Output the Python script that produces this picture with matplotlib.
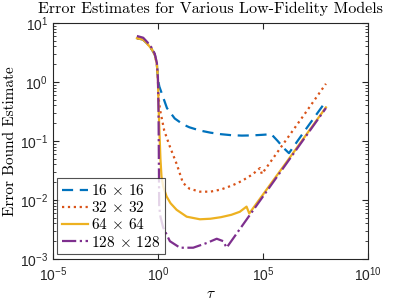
import numpy as np
import matplotlib
matplotlib.use("Agg")
import matplotlib.pyplot as plt

# log10(tau) and error values
head_logtau = [-1.0, -0.7, -0.5, -0.3, -0.15, -0.05, 0.0]
head_err = [6.0, 5.6, 4.7, 3.8, 3.0, 2.1, 1.2]
head_err_lo = [5.5, 5.2, 4.4, 3.6, 2.9, 2.0, 1.1]

blue_logtau = [0.07, 0.43, 0.8, 1.2, 1.5, 2.0, 2.5, 3.0, 3.5, 4.0, 4.5, 5.0, 5.4, 5.7, 6.0, 6.24, 7.0, 8.0]
blue_err = [0.83, 0.36, 0.24, 0.19, 0.17, 0.15, 0.138, 0.13, 0.125, 0.123, 0.124, 0.127, 0.13, 0.1, 0.075, 0.062, 0.15, 0.47]

orange_logtau = [0.03, 0.1, 0.3, 0.57, 0.9, 1.19, 1.5, 2.0, 2.5, 3.0, 3.57, 4.0, 4.5, 4.86, 4.95, 6.0, 7.0, 8.0]
orange_err = [0.55, 0.34, 0.15, 0.08, 0.04, 0.0195, 0.0155, 0.0138, 0.0138, 0.015, 0.0178, 0.021, 0.027, 0.0347, 0.0275, 0.092, 0.29, 0.93]

yellow_logtau = [0.03, 0.08, 0.12, 0.17, 0.25, 0.41, 0.6, 0.89, 1.37, 2.0, 2.5, 3.0, 3.5, 3.9, 4.22, 4.35, 6.0, 8.0]
yellow_err = [0.4, 0.12, 0.05, 0.025, 0.017, 0.0115, 0.0088, 0.0068, 0.0052, 0.0047, 0.0048, 0.0051, 0.0056, 0.0063, 0.0077, 0.0059, 0.038, 0.37]

purple_logtau = [0.03, 0.06, 0.12, 0.25, 0.57, 1.05, 1.68, 2.32, 2.8, 3.11, 3.27, 5.0, 8.0]
purple_err = [0.3, 0.0078, 0.0052, 0.0034, 0.002, 0.00155, 0.00155, 0.00186, 0.0022, 0.002, 0.00155, 0.0114, 0.36]

labels = [r"16 $\times$ 16", r"32 $\times$ 32", r"64 $\times$ 64", r"128 $\times$ 128"]
colors = ["#0072BD", "#D95319", "#EDB120", "#7E2F8E"]

plt.rcParams["font.family"] = ["Liberation Sans", "DejaVu Sans"]
plt.rcParams["mathtext.fontset"] = "cm"
plt.rcParams["axes.formatter.use_mathtext"] = True

fig = plt.figure(figsize=(4.07, 3.05), dpi=100)
ax = fig.add_axes([0.130, 0.151, 0.774, 0.774])

series = [
    (blue_logtau, blue_err, "--", head_err_lo),
    (orange_logtau, orange_err, ":", head_err_lo),
    (yellow_logtau, yellow_err, "-", head_err_lo),
    (purple_logtau, purple_err, "-.", head_err),
]
for (lt, e, ls, he), c, lab in zip(series, colors, labels):
    x = 10.0 ** np.array(head_logtau + lt)
    y = np.array(he + e)
    line, = ax.loglog(x, y, ls, color=c, lw=1.6, label=lab)
    if ls == "--":
        line.set_dashes((5, 3))

ax.set_xlim(1e-5, 1e10)
ax.set_ylim(1e-3, 1e1)
ax.set_xticks([1e-5, 1e0, 1e5, 1e10])
ax.xaxis.set_minor_locator(matplotlib.ticker.NullLocator())
ax.tick_params(which="both", direction="in", top=True, right=True, labelsize=10, colors="#262626")
ax.tick_params(which="major", length=4)
ax.tick_params(which="minor", length=2)
ax.tick_params(axis="x", pad=5)
for s in ax.spines.values():
    s.set_color("#262626")
    s.set_linewidth(0.8)

cm = {"family": "cmr10"}
ax.set_title("Error Estimates for Various Low-Fidelity Models", fontdict=cm, fontsize=11.5, pad=7)
ax.set_ylabel("Error Bound Estimate", fontdict=cm, fontsize=11, labelpad=2)
ax.set_xlabel(r"$\tau$", fontsize=11, labelpad=2)

leg = ax.legend(loc="lower left", prop={"family": "cmr10", "size": 11}, fancybox=False,
                edgecolor="#262626", handlelength=1.7, handletextpad=0.2,
                borderpad=0.3, labelspacing=0.15, borderaxespad=0.3)
leg.get_frame().set_linewidth(0.8)

fig.savefig("out.png", dpi=100)
